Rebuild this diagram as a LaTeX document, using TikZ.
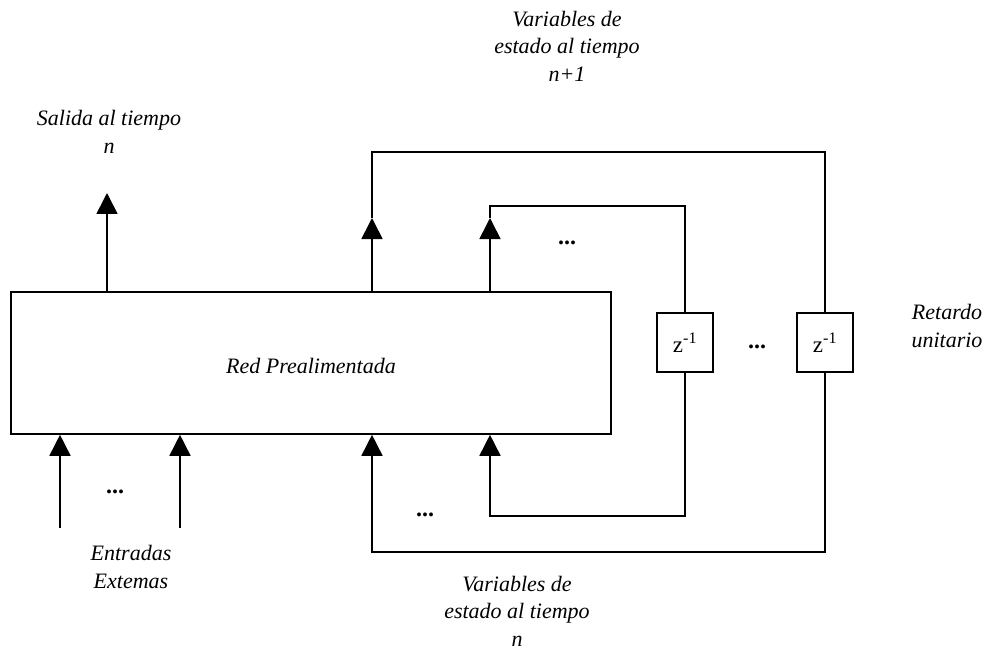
\documentclass[tikz,border=0pt]{standalone}
\usepackage{fontspec}
\setmainfont{Liberation Serif}
\usetikzlibrary{arrows.meta,calc}
\begin{document}
\begin{tikzpicture}[x=1pt,y=-1pt,
  line width=1.6pt,
  arr/.style={-{Triangle[width=21pt,length=21pt]}},
  lbl/.style={font=\fontsize{22}{27.5}\selectfont\itshape, align=center, inner sep=0pt},
  dots/.style={font=\fontsize{24}{24}\selectfont\bfseries, inner sep=0pt},
  delay/.style={draw, minimum width=56pt, minimum height=59pt, inner sep=0pt, font=\fontsize{23}{24}\selectfont}
]
\useasboundingbox (0,0) rectangle (986,650);
% main block
\node[draw, minimum width=600pt, minimum height=142pt, inner sep=0pt] (red) at (311,363) {};
\node[lbl] (redlbl) at (311,366) {Red Prealimentada};
% delay blocks
\node[delay] (z1) at (685,342.5) {z\textsuperscript{-1}};
\node[delay] (z2) at (825,342.5) {z\textsuperscript{-1}};
% coordinates
\coordinate (o1) at (107,193);
\coordinate (s1) at (490,206);
\coordinate (s2) at (372,152);
\coordinate (t1) at (490,218);
\coordinate (t2) at (372,218);
\coordinate (b1) at (490,516);
\coordinate (b2) at (372,552);
\coordinate (e1) at (60,528);
\coordinate (e2) at (180,528);
% output
\draw[arr] (red.north -| o1) -- (o1);
% state outputs to delays
\draw[arr] (red.north -| t2) -- (t2);
\draw (t2) -- (s2) -| (z2.north);
\draw[arr] (red.north -| t1) -- (t1);
\draw (t1) -- (s1) -| (z1.north);
% delays back to inputs
\draw[arr] (z1.south) |- (b1) -- (red.south -| b1);
\draw[arr] (z2.south) |- (b2) -- (red.south -| b2);
% external inputs
\draw[arr] (e1) -- (red.south -| e1);
\draw[arr] (e2) -- (red.south -| e2);
% dots
\node[dots] (d1) at (567,243) {...};
\node[dots] (d2) at (757,347) {...};
\node[dots] (d3) at (115,492) {...};
\node[dots] (d4) at (425,515) {...};
% labels
\node[lbl] (lsal) at (109,132) {Salida al tiempo\\n};
\node[lbl] (lvar1) at (567,46) {Variables de\\estado al tiempo\\n+1};
\node[lbl] (lret) at (947,326) {Retardo\\unitario};
\node[lbl] (lent) at (131,567) {Entradas\\Extemas};
\node[lbl] (lvar0) at (517,611) {Variables de\\estado al tiempo\\n};
\end{tikzpicture}
\end{document}
